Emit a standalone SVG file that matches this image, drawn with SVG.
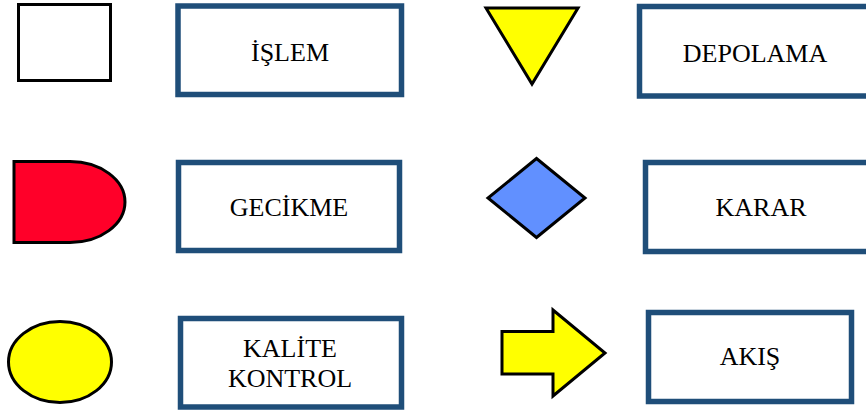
<svg xmlns="http://www.w3.org/2000/svg" width="866" height="411" viewBox="0 0 866 411">
  <style>
    .sym { stroke: #000; stroke-width: 3; stroke-linejoin: miter; }
    .box { fill: #fff; stroke: #1F4E79; stroke-width: 5.5; }
    .lbl { font-family: "Liberation Serif", "Times New Roman", serif; font-size: 26px; fill: #000; text-anchor: middle; }
  </style>
  <rect width="866" height="411" fill="#fff"/>

  <!-- Row 1: process -->
  <g id="islem-symbol">
    <rect class="sym" x="18.5" y="4.5" width="92" height="76" fill="#fff"/>
  </g>
  <g id="islem">
    <rect class="box" x="178" y="6" width="223.5" height="88.5"/>
    <text class="lbl" x="290" y="60.5">İŞLEM</text>
  </g>

  <!-- Row 1: storage -->
  <g id="depolama-symbol">
    <polygon class="sym" points="486,8 578,8 532,84" fill="#FFFF00"/>
  </g>
  <g id="depolama">
    <rect class="box" x="639.5" y="6.5" width="234" height="89.5"/>
    <text class="lbl" x="755" y="61.5">DEPOLAMA</text>
  </g>

  <!-- Row 2: delay -->
  <g id="gecikme-symbol">
    <path class="sym" d="M14,161.5 H70 A55,40.5 0 0 1 70,242.5 H14 Z" fill="#FF0029"/>
  </g>
  <g id="gecikme">
    <rect class="box" x="178.5" y="162.5" width="221" height="88"/>
    <text class="lbl" x="289" y="216">GECİKME</text>
  </g>

  <!-- Row 2: decision -->
  <g id="karar-symbol">
    <polygon class="sym" points="536.5,158.5 585,198 536.5,237.5 488,198" fill="#6190FF"/>
  </g>
  <g id="karar">
    <rect class="box" x="645.5" y="162.5" width="234" height="89"/>
    <text class="lbl" x="761" y="216">KARAR</text>
  </g>

  <!-- Row 3: inspection -->
  <g id="kalite-kontrol-symbol">
    <ellipse class="sym" cx="60" cy="362" rx="51.5" ry="40.5" fill="#FFFF00"/>
  </g>
  <g id="kalite-kontrol">
    <rect class="box" x="180.5" y="318.5" width="221" height="88.5"/>
    <text class="lbl" x="290" y="357">KALİTE</text>
    <text class="lbl" x="290" y="387">KONTROL</text>
  </g>

  <!-- Row 3: flow -->
  <g id="akis-symbol">
    <polygon class="sym" points="502,331.5 553,331.5 553,310 605,353 553,396 553,374 502,374" fill="#FFFF00"/>
  </g>
  <g id="akis">
    <rect class="box" x="648.5" y="312.5" width="203" height="89"/>
    <text class="lbl" x="750" y="365">AKIŞ</text>
  </g>

  <g id="connectors"/>
</svg>
